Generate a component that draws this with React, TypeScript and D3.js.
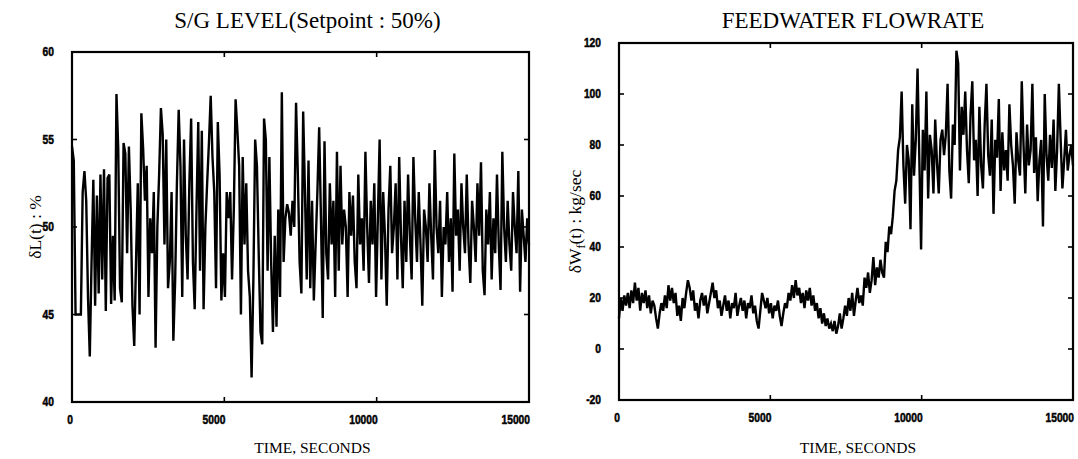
import React from "react";
import * as d3 from "d3";

const T_END = 15000; // seconds covered by the samples
const xTicks = [0, 5000, 10000, 15000];
const levelTicks = [40, 45, 50, 55, 60];
const flowTicks = [-20, 0, 20, 40, 60, 80, 100, 120];

const levelValues = [
  54.6, 53.8, 45.0, 45.0, 45.0, 45.0, 52.0, 53.2, 51.5, 46.0,
  42.6, 48.0, 52.7, 45.5, 51.8, 46.2, 53.0, 47.0, 53.3, 45.2,
  52.8, 53.0, 45.6, 49.5, 45.8, 57.6, 54.5, 46.5, 45.7, 54.8,
  54.2, 48.5, 54.6, 51.0, 45.5, 43.2, 48.0, 52.5, 45.0, 56.5,
  54.5, 51.5, 53.5, 46.0, 50.5, 48.5, 52.0, 43.1, 50.0, 53.0,
  56.8, 55.3, 49.0, 55.0, 46.5, 48.0, 52.0, 43.5, 46.9, 52.5,
  56.7, 53.5, 46.0, 55.0, 49.5, 47.0, 52.5, 56.2, 48.0, 45.3,
  51.0, 56.0, 47.5, 55.5, 45.3, 50.0, 52.5, 54.8, 57.5, 54.0,
  52.0, 46.5, 56.0, 53.0, 45.8, 48.5, 46.0, 52.0, 50.5, 52.0,
  47.0, 51.0, 57.3, 55.5, 53.5, 45.0, 54.0, 49.0, 52.5, 47.5,
  46.0, 41.4, 47.0, 55.0, 53.5, 48.5, 44.0, 43.3, 56.2, 55.0,
  47.5, 54.0, 48.0, 44.0, 49.5, 44.3, 51.0, 46.0, 57.7, 48.0,
  50.5, 51.3, 50.8, 49.5, 51.5, 50.0, 57.1, 53.0, 48.0, 46.2,
  56.6, 52.0, 47.0, 53.8, 46.5, 51.5, 45.8, 49.0, 52.0, 55.7,
  50.5, 44.8, 54.9, 48.5, 47.0, 52.5, 49.0, 51.5, 46.0, 54.3,
  47.5, 53.5, 49.0, 51.0, 50.0, 46.0, 52.0, 49.5, 51.8, 48.0,
  46.5, 53.0, 49.0, 50.5, 47.5, 54.3, 50.0, 46.8, 51.5, 49.0,
  52.5, 46.0, 50.5, 55.0, 47.0, 52.0, 49.5, 45.5, 51.0, 53.5,
  48.5, 50.0, 52.5, 47.0, 54.0, 49.5, 46.5, 51.5, 48.0, 53.0,
  49.5, 47.0, 54.0, 50.5, 48.0, 52.0, 49.0, 45.5, 51.0, 50.0,
  48.0, 52.5, 49.5, 47.0, 54.4, 50.0, 48.5, 51.5, 46.0, 50.0,
  49.0, 52.0, 48.0, 50.5, 46.3, 54.2, 49.5, 51.0, 47.5, 52.5,
  50.0, 48.5, 53.0, 49.0, 46.8, 51.5, 50.0, 48.0, 52.5, 49.5,
  53.7, 47.5, 46.1, 51.0, 49.0, 52.0, 47.0, 50.5, 48.5, 53.0,
  49.0, 46.4, 54.3, 50.0, 48.0, 51.5, 49.0, 47.5, 52.0, 50.0,
  48.5, 53.2, 46.3, 51.0, 49.5, 48.0, 50.5, 49.0,
];

const flowValues = [
  12, 20, 15, 21, 17, 22, 16, 23, 18, 26,
  19, 24, 15, 22, 18, 23, 16, 21, 14, 19,
  17, 12, 8, 14, 18, 15, 21, 16, 25, 19,
  24, 18, 22, 13, 17, 11, 20, 16, 22, 27,
  24, 19, 23, 15, 18, 12, 19, 22, 17, 21,
  14, 18, 22, 26, 20, 23, 16, 19, 13, 17,
  21, 15, 19, 12, 18, 16, 22, 13, 17, 20,
  15, 19, 12, 18, 16, 21, 14, 17, 11, 8,
  15, 22, 19, 16, 20, 14, 18, 12, 17, 15,
  19, 13, 9, 14, 18, 16, 22, 19, 25, 20,
  27, 21, 24, 18, 22, 16, 23, 19, 24, 17,
  21, 15, 18, 12, 16, 10, 14, 9, 12, 8,
  10, 7, 11, 6, 9, 14, 8, 12, 17, 13,
  20, 15, 22, 13, 19, 24, 18, 21, 17, 28,
  24, 30, 22, 27, 36, 25, 32, 28, 35, 30,
  28, 42, 38, 48, 45, 52, 62, 66, 78, 83,
  101, 72, 57, 80, 74, 47, 96, 68, 82, 110,
  75, 39, 86, 70, 101, 59, 84, 78, 61, 90,
  73, 61, 82, 86, 76, 84, 104, 70, 59, 88,
  80, 117, 112, 70, 95, 84, 101, 78, 65, 92,
  105, 74, 82, 60, 95, 72, 63, 88, 104, 76,
  68, 90, 53, 82, 75, 98, 62, 85, 70, 78,
  66, 96, 80, 72, 57, 85, 74, 68, 105, 80,
  61, 88, 72, 78, 104, 69, 83, 58, 74, 82,
  48, 100, 76, 66, 84, 71, 90, 62, 78, 104,
  82, 63, 74, 86, 70, 76, 80, 72,
];

const tickFont = "'Liberation Sans', Arial, sans-serif";
const serif = "'Liberation Serif', 'Times New Roman', serif";

type PanelProps = {
  left: number; right: number; top: number; bottom: number;
  values: number[]; yDomain: [number, number]; yTicks: number[];
  title: string; yLabel: React.ReactNode; yLabelX: number;
};

function TickText({ x, y, children }: { x: number; y: number; children: React.ReactNode }) {
  return (
    <text
      transform={`translate(${x},${y}) scale(0.82,1)`}
      dy="0.35em"
      textAnchor="end"
      fontFamily={tickFont}
      fontWeight="bold"
      fontSize={12.5}
      fill="#000"
      stroke="#000"
      strokeWidth={0.5}
    >
      {children}
    </text>
  );
}

function Panel(p: PanelProps) {
  const x = d3.scaleLinear().domain([0, T_END]).range([p.left, p.right]);
  const y = d3.scaleLinear().domain(p.yDomain).range([p.bottom, p.top]);
  const n = p.values.length;
  const line = d3.line<number>().x((_, i) => x((i * T_END) / (n - 1))).y((v) => y(v));
  const cx = (p.left + p.right) / 2;
  const cy = (p.top + p.bottom) / 2;
  const innerY = p.yTicks.filter((t) => t !== p.yDomain[0] && t !== p.yDomain[1]);
  const innerX = xTicks.filter((t) => t > 0 && t < T_END);
  return (
    <g>
      <text x={cx + 7} y={28} textAnchor="middle" fontFamily={serif} fontSize={23} fill="#000">
        {p.title}
      </text>
      <path d={line(p.values) || ""} fill="none" stroke="#000" strokeWidth={2.4} strokeLinejoin="miter" />
      <rect x={p.left} y={p.top} width={p.right - p.left} height={p.bottom - p.top} fill="none" stroke="#000" strokeWidth={2.2} />
      {innerY.map((t) => (
        <g key={"y" + t}>
          <line x1={p.left} x2={p.left + 5} y1={y(t)} y2={y(t)} stroke="#000" strokeWidth={1.6} />
          <line x1={p.right} x2={p.right - 5} y1={y(t)} y2={y(t)} stroke="#000" strokeWidth={1.6} />
        </g>
      ))}
      {innerX.map((t) => (
        <g key={"x" + t}>
          <line x1={x(t)} x2={x(t)} y1={p.top} y2={p.top + 5} stroke="#000" strokeWidth={1.6} />
          <line x1={x(t)} x2={x(t)} y1={p.bottom} y2={p.bottom - 5} stroke="#000" strokeWidth={1.6} />
        </g>
      ))}
      {p.yTicks.map((t) => (
        <TickText key={"yl" + t} x={p.left - 18} y={y(t)}>{t}</TickText>
      ))}
      {xTicks.map((t) => (
        <TickText key={"xl" + t} x={x(t) + 1} y={p.bottom + 18}>{t}</TickText>
      ))}
      <text x={cx + 12} y={453} textAnchor="middle" fontFamily={serif} fontSize={15.5} fill="#000">
        TIME, SECONDS
      </text>
      <text transform={`translate(${p.yLabelX},${cy}) rotate(-90)`} textAnchor="middle" fontFamily={serif} fontSize={17.5} fill="#000">
        {p.yLabel}
      </text>
    </g>
  );
}

export default function App() {
  return (
    <svg width={1078} height={459} style={{ position: "absolute", left: 0, top: 0, background: "#fff" }}>
      <rect width={1078} height={459} fill="#fff" />
      <Panel
        left={72} right={529} top={52} bottom={402}
        values={levelValues} yDomain={[40, 60]} yTicks={levelTicks}
        title="S/G  LEVEL(Setpoint : 50%)"
        yLabel="δL(t) : %" yLabelX={41}
      />
      <Panel
        left={619} right={1073} top={43} bottom={400}
        values={flowValues} yDomain={[-20, 120]} yTicks={flowTicks}
        title="FEEDWATER FLOWRATE"
        yLabel={<>δW<tspan fontSize={12} dy={4}>f</tspan><tspan dy={-4}>(t) : kg/sec</tspan></>}
        yLabelX={581}
      />
    </svg>
  );
}
